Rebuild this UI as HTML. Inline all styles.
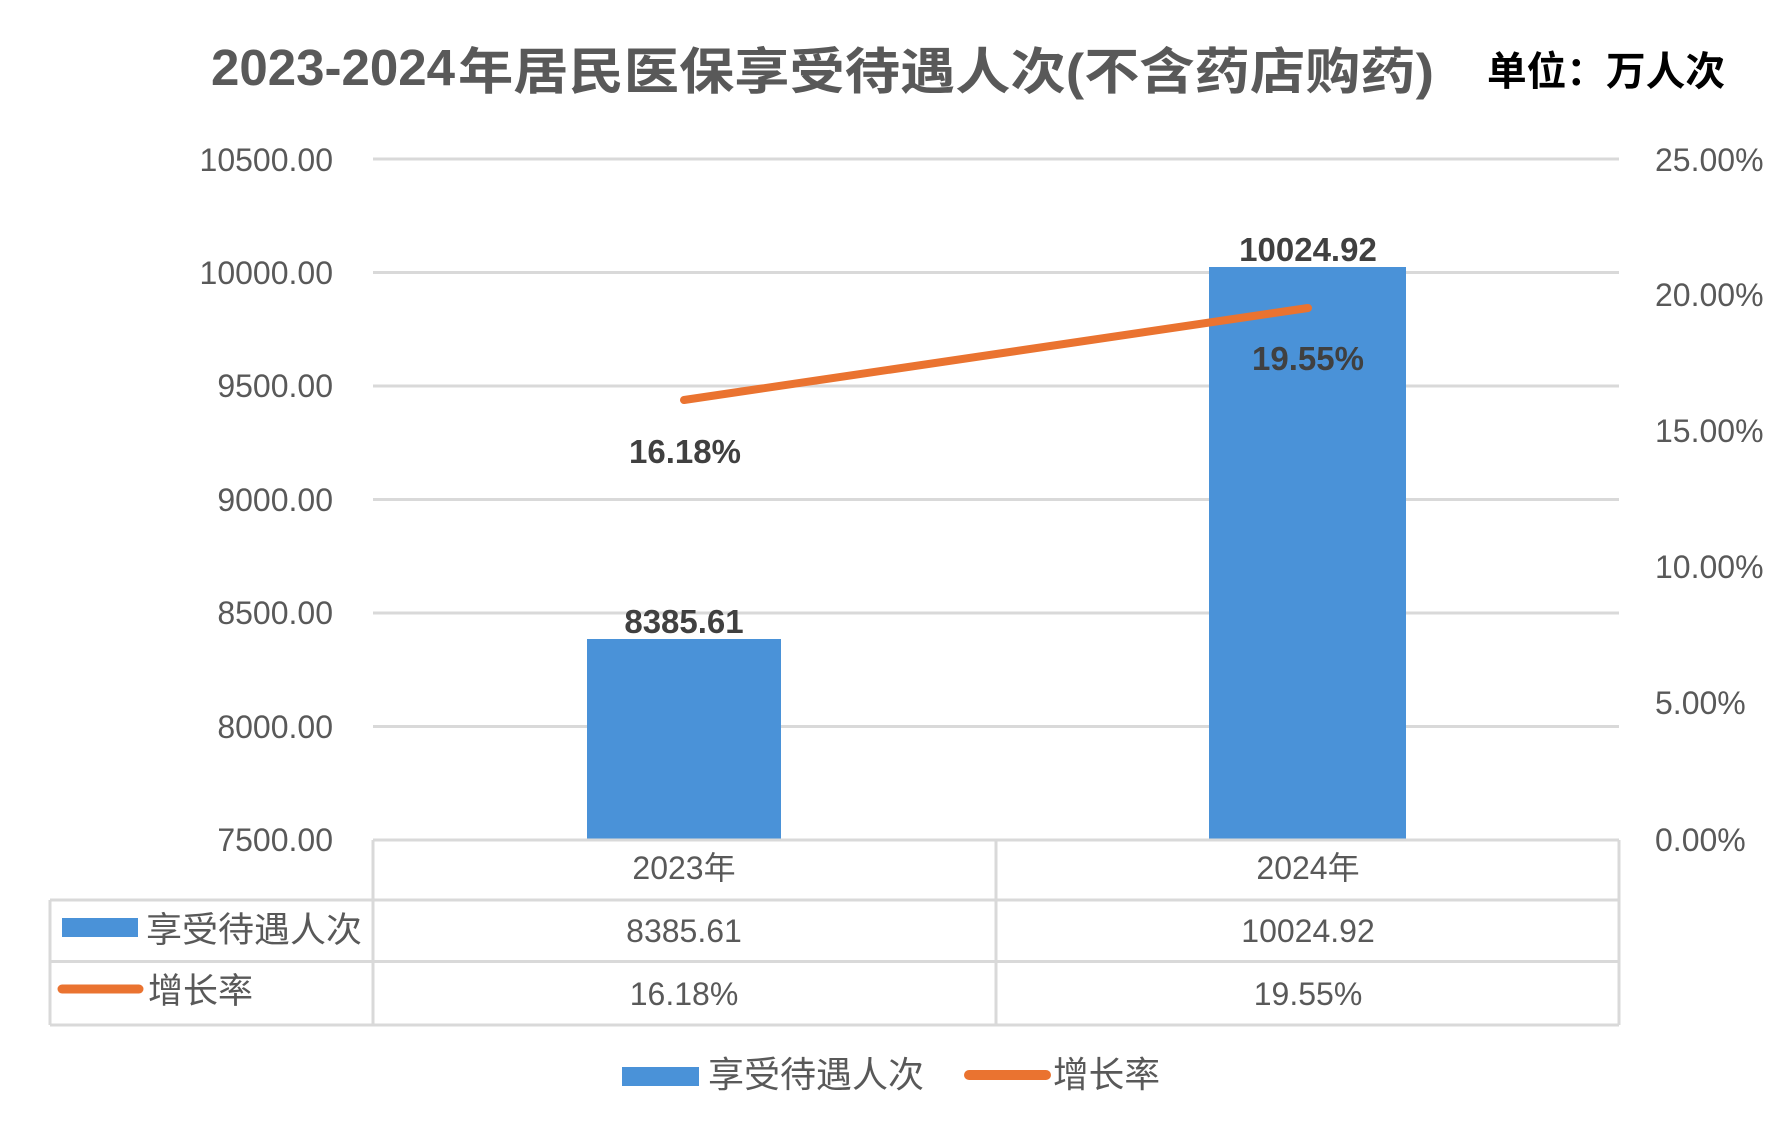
<!DOCTYPE html>
<html>
<head>
<meta charset="utf-8">
<style>
  html, body { margin: 0; padding: 0; background: #ffffff; }
  body { width: 1769px; height: 1133px; overflow: hidden; }
  svg { display: block; }
  .lat { font-family: "Liberation Sans", "Noto Sans CJK SC", sans-serif; }
  .cjk { font-family: "Liberation Sans", "Noto Sans CJK SC", sans-serif; }
</style>
</head>
<body>
<svg width="1769" height="1133" viewBox="0 0 1769 1133" xmlns="http://www.w3.org/2000/svg">
  <rect x="0" y="0" width="1769" height="1133" fill="#ffffff"/>

  <!-- Title -->
  <text x="211" y="85" class="lat" font-size="51" font-weight="bold" fill="#595959" textLength="244" lengthAdjust="spacingAndGlyphs">2023-2024</text>
  <text x="458" y="89" class="cjk" font-size="50" font-weight="bold" fill="#595959" textLength="976" lengthAdjust="spacingAndGlyphs">年居民医保享受待遇人次(不含药店购药)</text>
  <text x="1487" y="85" class="cjk" font-size="40" font-weight="bold" fill="#000000" textLength="238" lengthAdjust="spacingAndGlyphs">单位：万人次</text>

  <!-- Gridlines -->
  <g stroke="#d9d9d9" stroke-width="3">
    <line x1="373" y1="159" x2="1619" y2="159"/>
    <line x1="373" y1="272.5" x2="1619" y2="272.5"/>
    <line x1="373" y1="386" x2="1619" y2="386"/>
    <line x1="373" y1="499.5" x2="1619" y2="499.5"/>
    <line x1="373" y1="613" x2="1619" y2="613"/>
    <line x1="373" y1="726.5" x2="1619" y2="726.5"/>
  </g>

  <!-- Left axis labels -->
  <g class="lat" font-size="32" fill="#595959" text-anchor="end">
    <text x="333" y="171">10500.00</text>
    <text x="333" y="284">10000.00</text>
    <text x="333" y="397">9500.00</text>
    <text x="333" y="511">9000.00</text>
    <text x="333" y="624">8500.00</text>
    <text x="333" y="738">8000.00</text>
    <text x="333" y="851">7500.00</text>
  </g>

  <!-- Right axis labels -->
  <g class="lat" font-size="32" fill="#595959">
    <text x="1655" y="171">25.00%</text>
    <text x="1655" y="306">20.00%</text>
    <text x="1655" y="442">15.00%</text>
    <text x="1655" y="578">10.00%</text>
    <text x="1655" y="714">5.00%</text>
    <text x="1655" y="851">0.00%</text>
  </g>

  <!-- Bars -->
  <rect x="587" y="639" width="194" height="201" fill="#4a92d8"/>
  <rect x="1209" y="267" width="197" height="573" fill="#4a92d8"/>

  <!-- Line -->
  <line x1="684" y1="400" x2="1308" y2="308" stroke="#ea7330" stroke-width="8" stroke-linecap="round"/>

  <!-- Data labels -->
  <g class="lat" font-size="33" font-weight="bold" fill="#404040" text-anchor="middle">
    <text x="684" y="633">8385.61</text>
    <text x="1308" y="261">10024.92</text>
    <text x="685" y="463">16.18%</text>
    <text x="1308" y="370">19.55%</text>
  </g>

  <!-- Data table -->
  <g stroke="#d9d9d9" stroke-width="3" fill="none">
    <line x1="373" y1="840" x2="1619" y2="840"/>
    <line x1="50" y1="900" x2="1619" y2="900"/>
    <line x1="50" y1="961.5" x2="1619" y2="961.5"/>
    <line x1="50" y1="1025" x2="1619" y2="1025"/>
    <line x1="50" y1="900" x2="50" y2="1025"/>
    <line x1="373" y1="840" x2="373" y2="1025"/>
    <line x1="996" y1="840" x2="996" y2="1025"/>
    <line x1="1619" y1="840" x2="1619" y2="1025"/>
  </g>

  <g class="lat" font-size="32" fill="#595959" text-anchor="middle">
    <text x="684" y="879">2023年</text>
    <text x="1308" y="879">2024年</text>
    <text x="684" y="942">8385.61</text>
    <text x="1308" y="942">10024.92</text>
    <text x="684" y="1005">16.18%</text>
    <text x="1308" y="1005">19.55%</text>
  </g>

  <!-- Table legend keys -->
  <rect x="62" y="918" width="76" height="19" fill="#4a92d8"/>
  <line x1="62" y1="989" x2="139" y2="989" stroke="#ea7330" stroke-width="9" stroke-linecap="round"/>
  <text x="146" y="942" class="cjk" font-size="35" fill="#595959" textLength="216" lengthAdjust="spacingAndGlyphs">享受待遇人次</text>
  <text x="148" y="1003" class="cjk" font-size="35" fill="#595959" textLength="105" lengthAdjust="spacingAndGlyphs">增长率</text>

  <!-- Bottom legend -->
  <rect x="622" y="1067" width="77" height="19" fill="#4a92d8"/>
  <text x="708" y="1087" class="cjk" font-size="36" fill="#595959" textLength="216" lengthAdjust="spacingAndGlyphs">享受待遇人次</text>
  <line x1="969" y1="1075" x2="1046" y2="1075" stroke="#ea7330" stroke-width="10" stroke-linecap="round"/>
  <text x="1053" y="1087" class="cjk" font-size="36" fill="#595959" textLength="107" lengthAdjust="spacingAndGlyphs">增长率</text>
</svg>
</body>
</html>
